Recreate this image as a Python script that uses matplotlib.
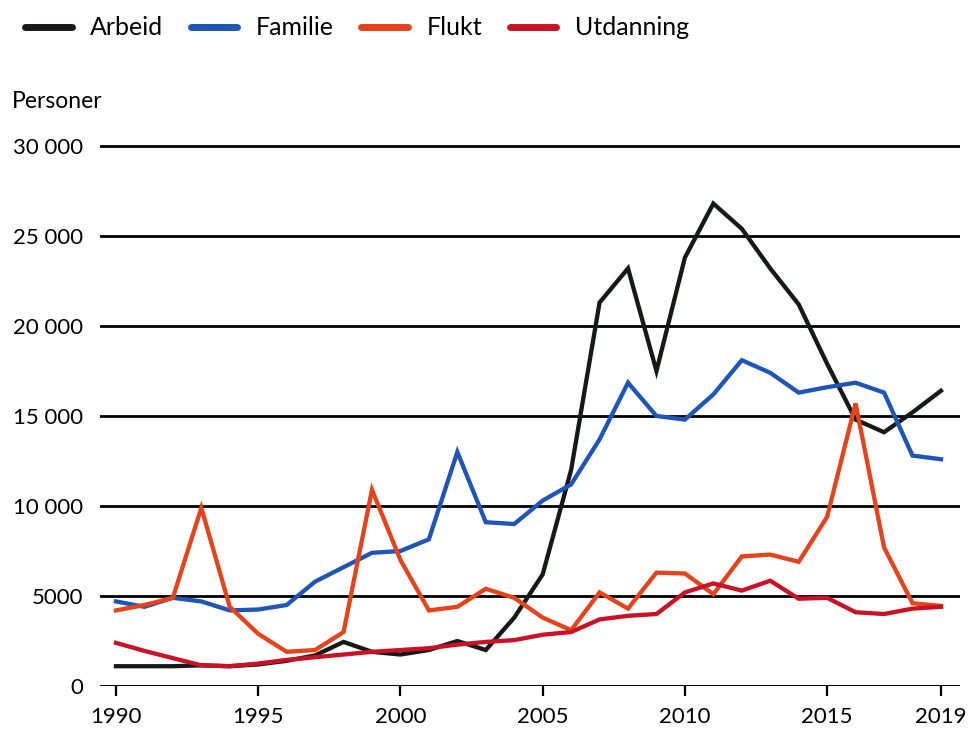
import matplotlib
matplotlib.use("Agg")
import matplotlib.pyplot as plt
from matplotlib.ticker import FuncFormatter

plt.rcParams['font.family'] = ['Lato', 'DejaVu Sans']

years = list(range(1990, 2020))

arbeid = [1100, 1100, 1100, 1150, 1100, 1200, 1400, 1700, 2450, 1900,
          1750, 2000, 2500, 2000, 3800, 6200, 12000, 21300, 23200, 17500,
          23800, 26800, 25400, 23200, 21200, 17900, 14800, 14100, 15200, 16400]
familie = [4700, 4400, 4900, 4700, 4200, 4250, 4500, 5800, 6600, 7400,
           7500, 8150, 13000, 9100, 9000, 10300, 11200, 13700, 16850, 15000,
           14800, 16200, 18100, 17400, 16300, 16600, 16850, 16300, 12800, 12600]
flukt = [4200, 4500, 4900, 9900, 4400, 2900, 1900, 2000, 3000, 10900,
         7000, 4200, 4400, 5400, 4900, 3800, 3100, 5200, 4300, 6300,
         6250, 5100, 7200, 7300, 6900, 9400, 15700, 7700, 4600, 4450]
utdanning = [2400, 1950, 1550, 1150, 1100, 1250, 1450, 1600, 1750, 1900,
             2000, 2100, 2300, 2450, 2550, 2850, 3000, 3700, 3900, 4000,
             5200, 5700, 5300, 5850, 4850, 4900, 4100, 4000, 4300, 4400]

series = ['Arbeid', 'Familie', 'Flukt', 'Utdanning']
colors = ['#161a17', '#1f55b5', '#e5431c', '#c81225']
y_ticks = [0, 5000, 10000, 15000, 20000, 25000, 30000]
x_ticks = [1990, 1995, 2000, 2005, 2010, 2015, 2019]

fig = plt.figure(figsize=(9.75, 7.36), dpi=100)
ax = fig.add_axes([0.1026, 0.0679, 0.882, 0.746])

for name, vals, c in zip(series, [arbeid, familie, flukt, utdanning], colors):
    ax.plot(years, vals, color=c, lw=3.1, label=name, solid_joinstyle='miter', zorder=3)

for v in y_ticks:
    ax.axhline(v, color='black', lw=2.2 if v == 0 else 2.0, zorder=1)

ax.set_xlim(1989.44, 2019.67)
ax.set_ylim(0, 30500)
ax.set_yticks(y_ticks)
ax.set_xticks(x_ticks)

def fmt(v, pos):
    v = int(v)
    if v >= 10000:
        return '{:,}'.format(v).replace(',', ' ')
    return str(v)

ax.yaxis.set_major_formatter(FuncFormatter(fmt))
ax.tick_params(axis='y', length=0, pad=12, labelsize=16)
ax.tick_params(axis='x', length=7, width=1.6, direction='out', pad=8, labelsize=16)
for s in ax.spines.values():
    s.set_visible(False)

fig.text(0.012, 0.862, 'Personer', fontsize=16.5, ha='left', va='center')

leg = fig.legend(loc='center left', bbox_to_anchor=(0.026, 0.962), ncol=4, frameon=False,
                 fontsize=18, handlelength=1.85, handletextpad=0.75, columnspacing=1.1,
                 borderpad=0, borderaxespad=0)
for h in leg.legend_handles:
    h.set_linewidth(5)
    h.set_solid_capstyle('round')

fig.savefig('out.png', dpi=100)
